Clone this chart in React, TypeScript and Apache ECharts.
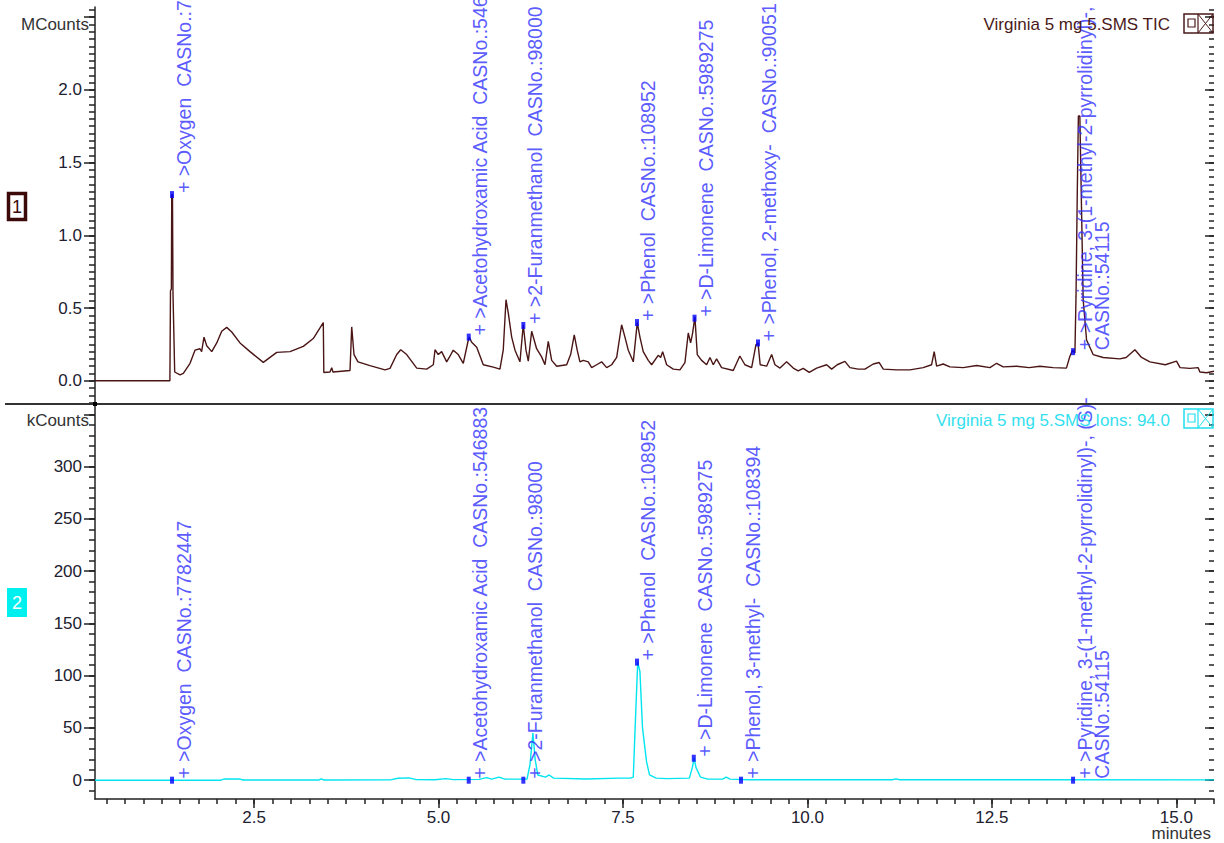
import React, { useEffect, useRef } from "react";
import * as echarts from "echarts";

// ---- TIC trace (minutes, MCounts) ----
const ticTimes = [
  0.345, 1.36, 1.368, 1.38, 1.385, 1.395, 1.402, 1.425, 1.497, 1.542, 1.633, 1.7, 1.768, 1.79, 1.822, 1.859,
  1.927, 1.995, 2.062, 2.13, 2.198, 2.31, 2.446, 2.626, 2.808, 2.988, 3.168, 3.303, 3.439, 3.446, 3.53, 3.553,
  3.57, 3.801, 3.824, 3.855, 3.909, 4.072, 4.275, 4.343, 4.434, 4.488, 4.569, 4.705, 4.84, 4.93, 4.953, 4.997,
  5.043, 5.111, 5.146, 5.2, 5.268, 5.336, 5.404, 5.417, 5.45, 5.518, 5.607, 5.743, 5.833, 5.878, 5.915, 5.946,
  5.992, 6.037, 6.104, 6.149, 6.186, 6.217, 6.263, 6.33, 6.398, 6.443, 6.488, 6.534, 6.602, 6.737, 6.791, 6.84,
  6.88, 6.917, 6.962, 7.03, 7.076, 7.143, 7.211, 7.279, 7.347, 7.415, 7.482, 7.527, 7.572, 7.64, 7.694, 7.73,
  7.775, 7.843, 7.889, 7.978, 8.011, 8.038, 8.092, 8.182, 8.272, 8.34, 8.385, 8.417, 8.444, 8.475, 8.507, 8.566,
  8.634, 8.679, 8.724, 8.769, 8.837, 8.995, 9.084, 9.153, 9.244, 9.302, 9.33, 9.36, 9.447, 9.515, 9.56, 9.628,
  9.718, 9.808, 9.875, 9.943, 10.024, 10.125, 10.26, 10.328, 10.404, 10.508, 10.576, 10.688, 10.779, 10.892,
  10.973, 11.028, 11.209, 11.389, 11.569, 11.683, 11.718, 11.751, 11.84, 11.931, 12.111, 12.293, 12.473, 12.564,
  12.653, 12.835, 13.005, 13.15, 13.33, 13.51, 13.556, 13.592, 13.625, 13.64, 13.657, 13.672, 13.692, 13.737,
  13.783, 13.872, 14.008, 14.234, 14.32, 14.438, 14.528, 14.641, 14.85, 15.002, 15.05, 15.183, 15.296, 15.319,
  15.41, 15.51,
];
const ticCounts = [
  0, 0, 0.62, 0.63, 1.28, 1.28, 0.6, 0.06, 0.04, 0.05, 0.12, 0.21, 0.22, 0.2, 0.3, 0.24,
  0.2, 0.26, 0.34, 0.367, 0.335, 0.26, 0.2, 0.126, 0.195, 0.2, 0.236, 0.29, 0.4, 0.057, 0.06, 0.09,
  0.06, 0.07, 0.37, 0.18, 0.13, 0.104, 0.075, 0.085, 0.18, 0.213, 0.18, 0.087, 0.08, 0.11, 0.213, 0.18,
  0.2, 0.13, 0.16, 0.21, 0.18, 0.12, 0.28, 0.3, 0.265, 0.23, 0.11, 0.094, 0.08, 0.213, 0.557, 0.465,
  0.3, 0.21, 0.13, 0.385, 0.21, 0.135, 0.34, 0.22, 0.164, 0.11, 0.27, 0.14, 0.1, 0.11, 0.18, 0.316,
  0.21, 0.13, 0.14, 0.13, 0.09, 0.11, 0.13, 0.09, 0.11, 0.16, 0.385, 0.3, 0.21, 0.13, 0.4, 0.3,
  0.2, 0.14, 0.11, 0.175, 0.16, 0.2, 0.11, 0.08, 0.075, 0.125, 0.328, 0.26, 0.328, 0.44, 0.18, 0.14,
  0.11, 0.16, 0.11, 0.15, 0.09, 0.07, 0.17, 0.11, 0.09, 0.247, 0.26, 0.11, 0.1, 0.18, 0.11, 0.087,
  0.13, 0.087, 0.068, 0.085, 0.057, 0.087, 0.11, 0.08, 0.11, 0.133, 0.09, 0.08, 0.08, 0.115,
  0.125, 0.08, 0.075, 0.075, 0.09, 0.11, 0.2, 0.1, 0.115, 0.095, 0.09, 0.105, 0.09, 0.12,
  0.095, 0.1, 0.09, 0.1, 0.09, 0.087, 0.167, 0.21, 0.19, 0.58, 1.29, 1.82, 1.82, 0.557,
  0.28, 0.18, 0.16, 0.15, 0.16, 0.213, 0.16, 0.13, 0.11, 0.135, 0.09, 0.085, 0.09, 0.06,
  0.055, 0.065,
];

// ---- Ion 94 trace (minutes, kCounts) ----
const ionTimes = [
  0.345, 2.05, 2.1, 2.3, 2.35, 3.38, 3.41, 3.45, 4.35, 4.45, 4.6, 4.7, 4.95, 5.1, 5.2, 5.55, 5.65, 5.72, 5.82,
  5.9, 6.2, 6.24, 6.28, 6.31, 6.345, 6.45, 6.5, 6.56, 7.0, 7.45, 7.6, 7.64, 7.665, 7.7, 7.73, 7.765, 7.82, 7.86,
  7.95, 8.1, 8.4, 8.44, 8.465, 8.49, 8.55, 8.65, 8.85, 8.9, 8.95, 9.2, 11.15, 11.2, 11.25, 15.51,
];
const ionCounts = [
  0, 0, 1.2, 1.2, 0.2, 0.2, 1.2, 0.2, 0.3, 1.8, 2.2, 0.5, 0.4, 1.5, 0.5, 0.8, 2.5, 1.0, 3.0,
  1.0, 1.0, 15, 45, 20, 5, 3, 5, 2, 1.2, 2, 2, 3, 50, 113, 104, 50, 17.5, 5,
  2, 1.5, 2, 12, 21, 12, 3, 1, 1, 3, 1, 0.4, 0.4, 1.2, 0.4, 0.3,
];

// ---- Peak annotations ----
const ticPeakNames = [
  "+ >Oxygen  CASNo.:7782447",
  "+ >Acetohydroxamic Acid  CASNo.:546883",
  "+ >2-Furanmethanol  CASNo.:98000",
  "+ >Phenol  CASNo.:108952",
  "+ >D-Limonene  CASNo.:5989275",
  "+ >Phenol, 2-methoxy-  CASNo.:90051",
  "+ >Pyridine, 3-(1-methyl-2-pyrrolidinyl)-, (S)-\nCASNo.:54115",
];
const ticPeakTimes = [1.389, 5.41, 6.15, 7.69, 8.47, 9.33, 13.6];
const ticPeakHeights = [1.28, 0.3, 0.38, 0.4, 0.43, 0.26, 0.2];

const ionPeakNames = [
  "+ >Oxygen  CASNo.:7782447",
  "+ >Acetohydroxamic Acid  CASNo.:546883",
  "+ >2-Furanmethanol  CASNo.:98000",
  "+ >Phenol  CASNo.:108952",
  "+ >D-Limonene  CASNo.:5989275",
  "+ >Phenol, 3-methyl-  CASNo.:108394",
  "+ >Pyridine, 3-(1-methyl-2-pyrrolidinyl)-, (S)-\nCASNo.:54115",
];
const ionPeakTimes = [1.389, 5.41, 6.15, 7.69, 8.46, 9.1, 13.6];
const ionPeakHeights = [0, 0, 0, 113, 21, 0, 0];

// ---- Ticks ----
const xMajorTicks = [2.5, 5, 7.5, 10, 12.5, 15];
const ticMajorTicks = [0, 0.5, 1, 1.5, 2, 2.5];
const ticTickLabels = [0, 0.5, 1, 1.5, 2];
const ionMajorTicks = [0, 50, 100, 150, 200, 250, 300, 350];
const ionTickLabels = [0, 50, 100, 150, 200, 250, 300];

const ticTitle = "Virginia 5 mg 5.SMS TIC";
const ionTitle = "Virginia 5 mg 5.SMS Ions: 94.0";

function steps(from: number, to: number, step: number): number[] {
  const out: number[] = [];
  const n = Math.round((to - from) / step);
  for (let i = 0; i <= n; i++) out.push(+(from + i * step).toFixed(4));
  return out;
}

const FONT = "'Liberation Sans', Arial, sans-serif";
const TIC_COLOR = "#4a1515";
const ION_COLOR = "#00e5ef";
const LABEL_COLOR = "#2f2fff";
const AXIS_COLOR = "#222";
const TEXT_COLOR = "#202030";

export default function App() {
  const ref = useRef<HTMLDivElement>(null);

  useEffect(() => {
    if (!ref.current) return;
    const chart = echarts.init(ref.current, null, { renderer: "svg" });

    const X_MIN = 0.345;
    const X_MAX = 15.51;
    const xMinor = steps(0.5, 15.5, 0.25);
    const ticMinor = steps(-0.15, 2.55, 0.05);
    const ionMinor = steps(-10, 350, 10);

    const grids = [
      { left: 95, top: 7, width: 1119, height: 397 },
      { left: 95, top: 404, width: 1119, height: 395 },
    ];

    const hiddenX = (gi: number) => ({
      type: "value",
      gridIndex: gi,
      min: X_MIN,
      max: X_MAX,
      axisLine: { show: false },
      axisTick: { show: false },
      axisLabel: { show: false },
      splitLine: { show: false },
    });

    const xAxes: any[] = [
      hiddenX(0),
      {
        type: "value",
        gridIndex: 1,
        position: "bottom",
        min: X_MIN,
        max: X_MAX,
        axisLine: { show: true, onZero: false, lineStyle: { color: AXIS_COLOR, width: 1.5 } },
        axisTick: { show: true, customValues: xMajorTicks, length: 9, lineStyle: { color: AXIS_COLOR, width: 1.5 } },
        axisLabel: {
          show: true,
          customValues: xMajorTicks,
          formatter: (v: number) => v.toFixed(1),
          fontSize: 17,
          fontFamily: FONT,
          color: TEXT_COLOR,
          margin: 10,
        },
        splitLine: { show: false },
      },
      {
        type: "value",
        gridIndex: 1,
        position: "bottom",
        offset: 0,
        min: X_MIN,
        max: X_MAX,
        axisLine: { show: false, onZero: false },
        axisTick: { show: true, customValues: xMinor, length: 5, lineStyle: { color: AXIS_COLOR, width: 1.5 } },
        axisLabel: { show: false },
        splitLine: { show: false },
      },
    ];

    const yAxisSet = (
      gi: number,
      min: number,
      max: number,
      majors: number[],
      labels: number[],
      minors: number[],
      fmt: (v: number) => string
    ) => [
      {
        type: "value",
        gridIndex: gi,
        position: "left",
        min,
        max,
        axisLine: { show: true, onZero: false, lineStyle: { color: AXIS_COLOR, width: 1.5 } },
        axisTick: { show: true, customValues: majors, length: 11, lineStyle: { color: AXIS_COLOR, width: 1.5 } },
        axisLabel: {
          show: true,
          customValues: labels,
          formatter: fmt,
          fontSize: 17,
          fontFamily: FONT,
          color: TEXT_COLOR,
          margin: 13,
        },
        splitLine: { show: false },
      },
      {
        type: "value",
        gridIndex: gi,
        position: "left",
        offset: 0,
        min,
        max,
        axisLine: { show: false, onZero: false },
        axisTick: { show: true, customValues: minors, length: 6, lineStyle: { color: AXIS_COLOR, width: 1.5 } },
        axisLabel: { show: false },
        splitLine: { show: false },
      },
      {
        type: "value",
        gridIndex: gi,
        position: "right",
        offset: 0,
        min,
        max,
        axisLine: { show: false, onZero: false },
        axisTick: { show: true, inside: true, customValues: majors, length: 9, lineStyle: { color: AXIS_COLOR, width: 1.5 } },
        axisLabel: { show: false },
        splitLine: { show: false },
      },
      {
        type: "value",
        gridIndex: gi,
        position: "right",
        offset: 0,
        min,
        max,
        axisLine: { show: false, onZero: false },
        axisTick: { show: true, inside: true, customValues: minors, length: 5, lineStyle: { color: AXIS_COLOR, width: 1.5 } },
        axisLabel: { show: false },
        splitLine: { show: false },
      },
    ];

    const yAxes: any[] = [
      ...yAxisSet(0, -0.16, 2.57, ticMajorTicks, ticTickLabels, ticMinor, (v) => v.toFixed(1)),
      ...yAxisSet(1, -18, 360, ionMajorTicks, ionTickLabels, ionMinor, (v) => String(v)),
    ];

    const peakLabel = (names: string[]) => ({
      show: true,
      formatter: (p: any) => names[p.dataIndex],
      rotate: 90,
      position: [5, 2],
      align: "left",
      verticalAlign: "top",
      fontSize: 19.5,
      lineHeight: 17,
      fontFamily: FONT,
      color: LABEL_COLOR,
    });

    const option: any = {
      animation: false,
      backgroundColor: "#ffffff",
      grid: grids,
      xAxis: xAxes,
      yAxis: yAxes,
      series: [
        {
          type: "line",
          xAxisIndex: 0,
          yAxisIndex: 0,
          data: ticTimes.map((t, i) => [t, ticCounts[i]]),
          showSymbol: false,
          symbol: "none",
          lineStyle: { color: TIC_COLOR, width: 1.4 },
          z: 3,
        },
        {
          type: "scatter",
          xAxisIndex: 0,
          yAxisIndex: 0,
          data: ticPeakTimes.map((t, i) => [t, ticPeakHeights[i]]),
          symbol: "rect",
          symbolSize: [4, 7],
          itemStyle: { color: "#0000ff" },
          label: peakLabel(ticPeakNames),
          z: 5,
        },
        {
          type: "line",
          xAxisIndex: 1,
          yAxisIndex: 4,
          data: ionTimes.map((t, i) => [t, ionCounts[i]]),
          showSymbol: false,
          symbol: "none",
          lineStyle: { color: ION_COLOR, width: 1.4 },
          z: 3,
        },
        {
          type: "scatter",
          xAxisIndex: 1,
          yAxisIndex: 4,
          data: ionPeakTimes.map((t, i) => [t, ionPeakHeights[i]]),
          symbol: "rect",
          symbolSize: [4, 7],
          itemStyle: { color: "#0000ff" },
          label: peakLabel(ionPeakNames),
          z: 5,
        },
      ],
      graphic: [
        // panel separator
        { type: "line", shape: { x1: 5, y1: 404, x2: 1214, y2: 404 }, style: { stroke: "#333", lineWidth: 2 }, z: 10 },
        { type: "rect", shape: { x: 93, y: 402, width: 4, height: 4 }, style: { fill: "#000" }, z: 11 },
        // axis names
        { type: "text", style: { text: "MCounts", x: 89, y: 24, align: "right", verticalAlign: "middle", font: `17px ${FONT}`, fill: "#333" }, z: 10 },
        { type: "text", style: { text: "kCounts", x: 89, y: 420, align: "right", verticalAlign: "middle", font: `17px ${FONT}`, fill: "#333" }, z: 10 },
        { type: "text", style: { text: "minutes", x: 1211, y: 833, align: "right", verticalAlign: "middle", font: `17px ${FONT}`, fill: "#333" }, z: 10 },
        // trace number boxes
        { type: "rect", shape: { x: 8.5, y: 193.5, width: 17, height: 26 }, style: { fill: "#fff", stroke: "#3d0a0a", lineWidth: 3.5 }, z: 10 },
        { type: "text", style: { text: "1", x: 17, y: 207, align: "center", verticalAlign: "middle", font: `18px ${FONT}`, fill: "#3d0a0a" }, z: 11 },
        { type: "rect", shape: { x: 7, y: 588, width: 20, height: 29 }, style: { fill: "#00f0f0" }, z: 10 },
        { type: "text", style: { text: "2", x: 17, y: 603, align: "center", verticalAlign: "middle", font: `18px ${FONT}`, fill: "#fff" }, z: 11 },
        // titles
        { type: "text", style: { text: ticTitle, x: 1170, y: 24, align: "right", verticalAlign: "middle", font: `17px ${FONT}`, fill: "#4a1a1a" }, z: 10 },
        { type: "text", style: { text: ionTitle, x: 1170, y: 420, align: "right", verticalAlign: "middle", font: `17px ${FONT}`, fill: "#33e0ee" }, z: 10 },
        // icon boxes (top)
        { type: "rect", shape: { x: 1184, y: 14, width: 29, height: 19 }, style: { fill: "none", stroke: "#4a1a1a", lineWidth: 1.5 }, z: 10 },
        { type: "rect", shape: { x: 1188, y: 19, width: 7, height: 8 }, style: { fill: "none", stroke: "#4a1a1a", lineWidth: 1.2 }, z: 10 },
        { type: "line", shape: { x1: 1198, y1: 14, x2: 1198, y2: 33 }, style: { stroke: "#4a1a1a", lineWidth: 1.2 }, z: 10 },
        { type: "line", shape: { x1: 1198, y1: 14, x2: 1213, y2: 33 }, style: { stroke: "#4a1a1a", lineWidth: 1 }, z: 10 },
        { type: "line", shape: { x1: 1213, y1: 14, x2: 1198, y2: 33 }, style: { stroke: "#4a1a1a", lineWidth: 1 }, z: 10 },
        // icon boxes (bottom)
        { type: "rect", shape: { x: 1184, y: 409, width: 29, height: 19 }, style: { fill: "none", stroke: "#22e0ee", lineWidth: 1.5 }, z: 10 },
        { type: "rect", shape: { x: 1188, y: 414, width: 7, height: 8 }, style: { fill: "none", stroke: "#22e0ee", lineWidth: 1.2 }, z: 10 },
        { type: "line", shape: { x1: 1198, y1: 409, x2: 1198, y2: 428 }, style: { stroke: "#22e0ee", lineWidth: 1.2 }, z: 10 },
        { type: "line", shape: { x1: 1198, y1: 409, x2: 1213, y2: 428 }, style: { stroke: "#22e0ee", lineWidth: 1 }, z: 10 },
        { type: "line", shape: { x1: 1213, y1: 409, x2: 1198, y2: 428 }, style: { stroke: "#22e0ee", lineWidth: 1 }, z: 10 },
      ],
    };

    chart.setOption(option);
    return () => chart.dispose();
  }, []);

  return (
    <div
      ref={ref}
      style={{ position: "fixed", left: 0, top: 0, width: 1224, height: 843, background: "#fff", overflow: "hidden" }}
    />
  );
}
